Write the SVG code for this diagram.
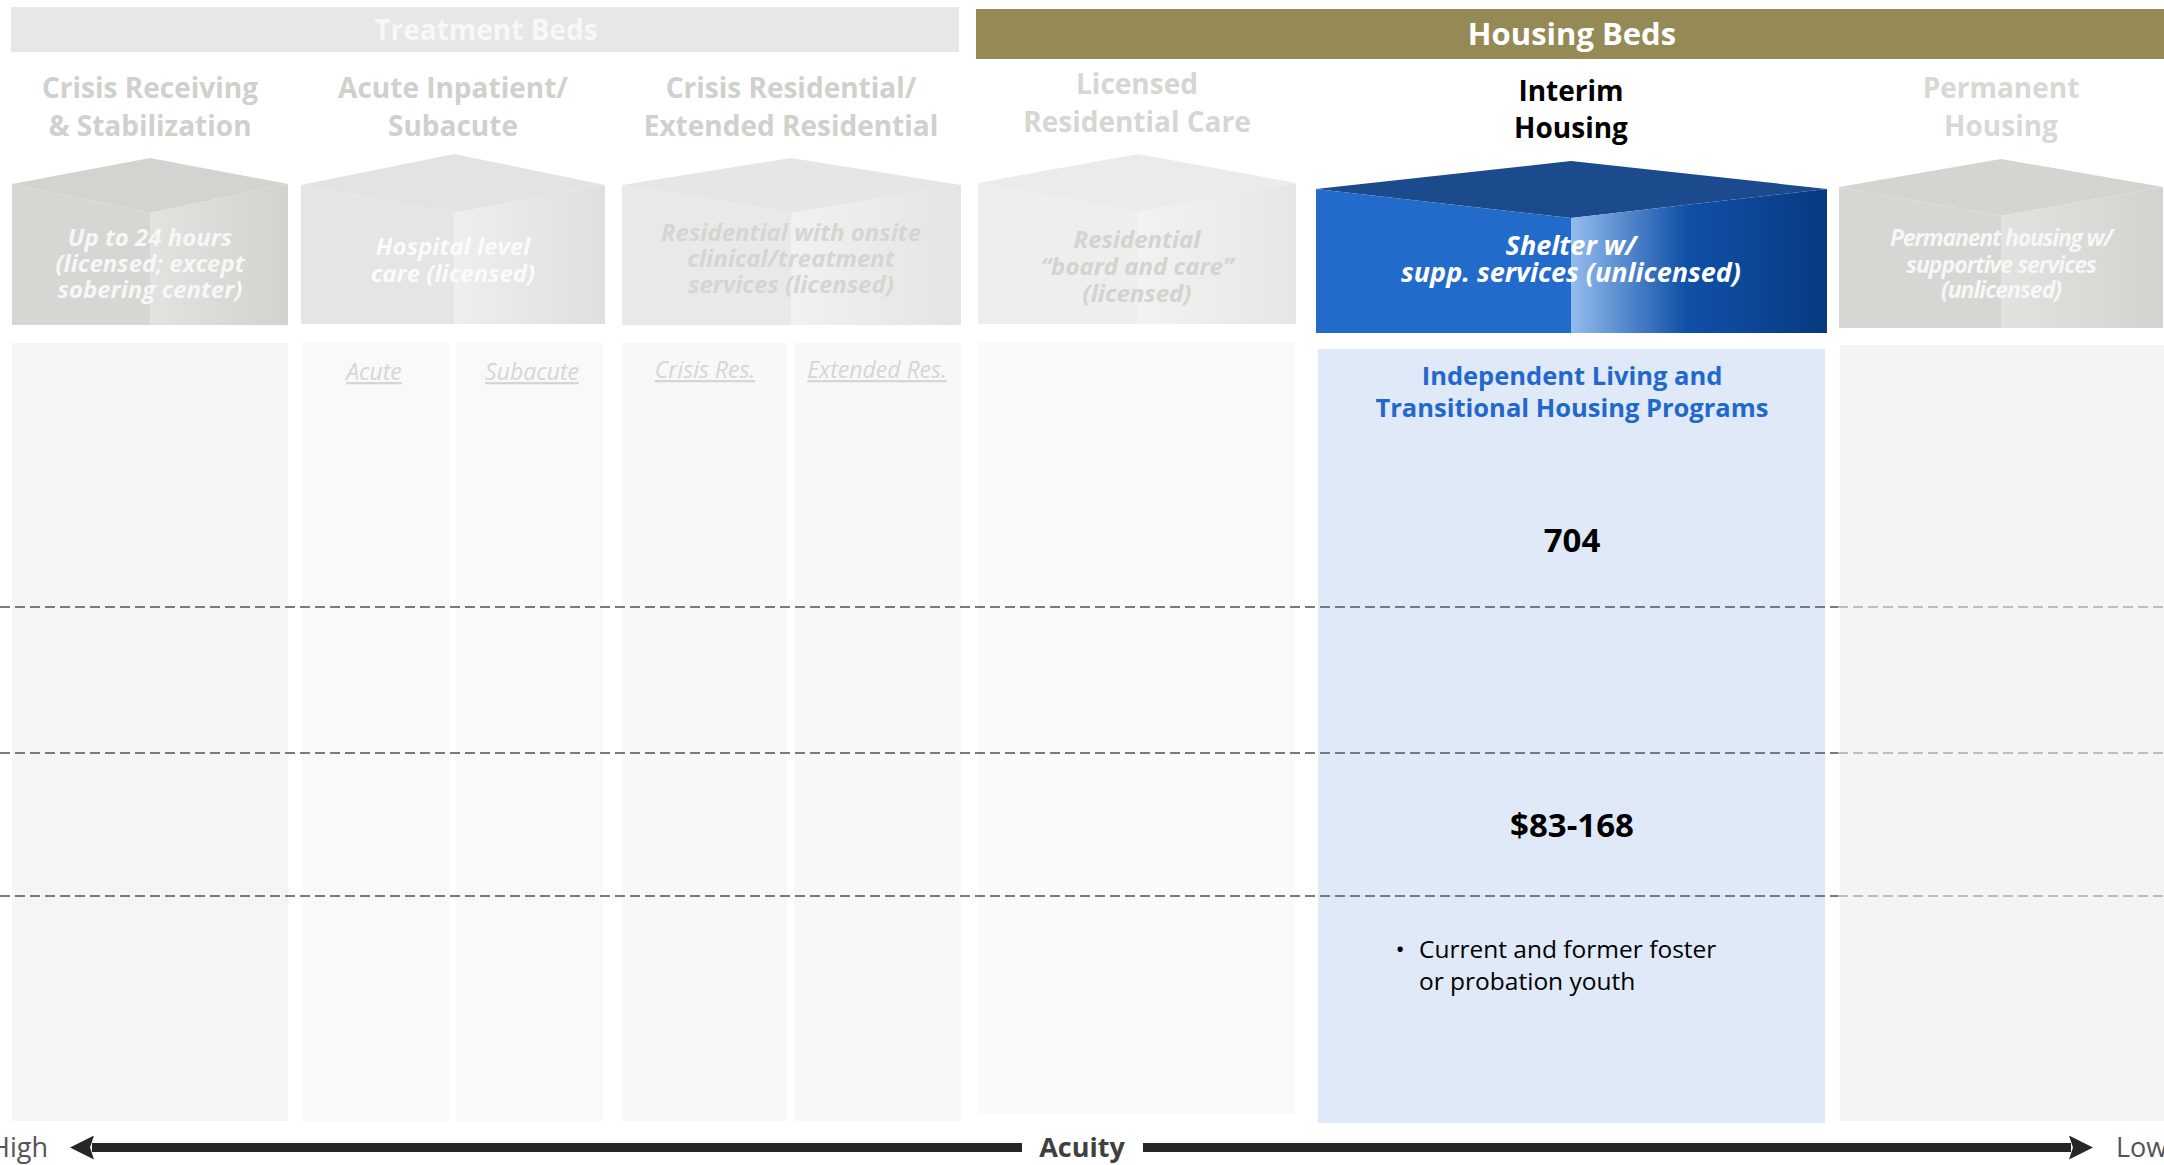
<svg xmlns="http://www.w3.org/2000/svg" width="2164" height="1165" viewBox="0 0 2164 1165">
<defs>
<style>
text{font-family:"Open Sans","Noto Sans","Liberation Sans",sans-serif}
.bar{font-size:28px;font-weight:700;text-anchor:middle}
.hdr{font-size:28px;font-weight:700;text-anchor:middle;fill:#d0d0cc}
.cube{font-size:24px;font-weight:700;font-style:italic;text-anchor:middle}
.sub{font-size:23px;font-style:italic;text-anchor:middle;fill:#d6d6d2;text-decoration:underline}
.dash{stroke:#7a7a7a;stroke-width:2;stroke-dasharray:10 5}
.axis{stroke:#262626;stroke-width:9}
</style>
<linearGradient id="gGray1" x1="0" x2="1" y1="0" y2="0"><stop offset="0" stop-color="#e2e2de"/><stop offset="1" stop-color="#d2d2ce"/></linearGradient>
<linearGradient id="gGray2" x1="0" x2="1" y1="0" y2="0"><stop offset="0" stop-color="#eeeeec"/><stop offset="1" stop-color="#dfdfdd"/></linearGradient>
<linearGradient id="gGray3" x1="0" x2="1" y1="0" y2="0"><stop offset="0" stop-color="#f1f1ef"/><stop offset="1" stop-color="#e4e4e2"/></linearGradient>
<linearGradient id="gGray4" x1="0" x2="1" y1="0" y2="0"><stop offset="0" stop-color="#f2f2f0"/><stop offset="1" stop-color="#e6e6e4"/></linearGradient>
<linearGradient id="gBlue" x1="0" x2="1" y1="0" y2="0"><stop offset="0" stop-color="#94bcee"/><stop offset="0.45" stop-color="#1050a8"/><stop offset="1" stop-color="#083a80"/></linearGradient>
<marker id="head" viewBox="0 0 24 24" refX="2" refY="12" markerWidth="24" markerHeight="24" markerUnits="userSpaceOnUse" orient="auto-start-reverse">
<path d="M0,0 L24,12 L0,24 L4,12 Z" fill="#262626"/>
</marker>
</defs>
<rect width="2164" height="1165" fill="#ffffff"/>

<g id="treatment-beds">
<rect x="11" y="7" width="948" height="45" fill="#e7e7e5"/>
<text class="bar" x="486" y="40" fill="#f8f8f6">Treatment Beds</text>
</g>
<g id="housing-beds">
<rect x="976" y="9" width="1188" height="50" fill="#958a55"/>
<text class="bar" x="1572" y="45" fill="#ffffff" style="font-size:31px">Housing Beds</text>
</g>

<!-- lower cells -->
<g id="cells">
<rect x="12" y="343" width="276" height="778" fill="#f5f5f3"/>
<rect x="302" y="343" width="147" height="778" fill="#f9f9f8"/>
<rect x="456" y="343" width="147" height="778" fill="#f9f9f8"/>
<rect x="622" y="343" width="165" height="778" fill="#f8f8f7"/>
<rect x="794" y="343" width="167" height="778" fill="#f8f8f7"/>
<rect x="978" y="342" width="317" height="772" fill="#fafaf8"/>
<rect x="1318" y="349" width="507" height="774" fill="#dfe9f8"/>
<rect x="1840" y="345" width="324" height="776" fill="#f4f4f2"/>
</g>

<!-- column 1 -->
<g id="col-crisis-receiving">
<text class="hdr" x="150" y="98">Crisis Receiving</text>
<text class="hdr" x="150" y="136">&amp; Stabilization</text>
<polygon points="12,184 150,158 288,184 150,213" fill="#d3d3cf"/>
<polygon points="12,184 150,213 150,325 12,325" fill="#d6d6d2"/>
<polygon points="150,213 288,184 288,325 150,325" fill="url(#gGray1)"/>
<text class="cube" x="150" y="246" fill="#f7f7f5">Up to 24 hours</text>
<text class="cube" x="150" y="272" fill="#f7f7f5">(licensed; except</text>
<text class="cube" x="150" y="298" fill="#f7f7f5">sobering center)</text>
</g>

<!-- column 2 -->
<g id="col-acute">
<text class="hdr" x="453" y="98">Acute Inpatient/</text>
<text class="hdr" x="453" y="136">Subacute</text>
<polygon points="301,185 454,154 605,185 454,213" fill="#e3e3e1"/>
<polygon points="301,185 454,213 454,324 301,324" fill="#e5e5e3"/>
<polygon points="454,213 605,185 605,324 454,324" fill="url(#gGray2)"/>
<text class="cube" x="453" y="255" fill="#fbfbfa">Hospital level</text>
<text class="cube" x="453" y="282" fill="#fbfbfa">care (licensed)</text>
<text class="sub" x="374" y="380">Acute</text>
<text class="sub" x="532" y="380">Subacute</text>
</g>

<!-- column 3 -->
<g id="col-crisis-residential">
<text class="hdr" x="791" y="98">Crisis Residential/</text>
<text class="hdr" x="791" y="136">Extended Residential</text>
<polygon points="622,185 791,158 961,185 791,213" fill="#e6e6e4"/>
<polygon points="622,185 791,213 791,325 622,325" fill="#e9e9e7"/>
<polygon points="791,213 961,185 961,325 791,325" fill="url(#gGray3)"/>
<text class="cube" x="791" y="241" fill="#d5d5d1">Residential with onsite</text>
<text class="cube" x="791" y="267" fill="#d5d5d1">clinical/treatment</text>
<text class="cube" x="791" y="293" fill="#d5d5d1">services (licensed)</text>
<text class="sub" x="705" y="378">Crisis Res.</text>
<text class="sub" x="877" y="378">Extended Res.</text>
</g>

<!-- column 4 -->
<g id="col-licensed-residential">
<text class="hdr" x="1137" y="94" style="fill:#d6d6d2">Licensed</text>
<text class="hdr" x="1137" y="132" style="fill:#d6d6d2">Residential Care</text>
<polygon points="978,183 1138,154 1296,183 1138,212" fill="#ebebe9"/>
<polygon points="978,183 1138,212 1138,324 978,324" fill="#eeeeec"/>
<polygon points="1138,212 1296,183 1296,324 1138,324" fill="url(#gGray4)"/>
<text class="cube" x="1137" y="248" fill="#d3d3cf">Residential</text>
<text class="cube" x="1137" y="275" fill="#d3d3cf">“board and care”</text>
<text class="cube" x="1137" y="302" fill="#d3d3cf">(licensed)</text>
</g>

<!-- column 5 -->
<g id="col-interim-housing">
<text class="hdr" x="1571" y="101" style="fill:#000000">Interim</text>
<text class="hdr" x="1571" y="138" style="fill:#000000">Housing</text>
<polygon points="1316,189 1571,161 1827,189 1571,218" fill="#1b4b8c"/>
<polygon points="1316,189 1571,218 1571,333 1316,333" fill="#236bcb"/>
<polygon points="1571,218 1827,189 1827,333 1571,333" fill="url(#gBlue)"/>
<text class="cube" x="1571" y="255" fill="#ffffff" style="font-size:27px">Shelter w/</text>
<text class="cube" x="1571" y="282" fill="#ffffff" style="font-size:27px">supp. services (unlicensed)</text>
<text x="1572" y="385" text-anchor="middle" font-size="25.5" font-weight="700" fill="#2268cc">Independent Living and</text>
<text x="1572" y="417" text-anchor="middle" font-size="25.5" font-weight="700" fill="#2268cc">Transitional Housing Programs</text>
<text x="1572" y="552" text-anchor="middle" font-size="33" font-weight="700" fill="#000000">704</text>
<text x="1572" y="837" text-anchor="middle" font-size="33" font-weight="700" fill="#000000">$83-168</text>
<text x="1400" y="958" text-anchor="middle" font-size="24.5" fill="#000000">•</text>
<text x="1419" y="958" font-size="24.5" fill="#000000">Current and former foster</text>
<text x="1419" y="990" font-size="24.5" fill="#000000">or probation youth</text>
</g>

<!-- column 6 -->
<g id="col-permanent-housing">
<text class="hdr" x="2001" y="98" style="fill:#d8d8d4">Permanent</text>
<text class="hdr" x="2001" y="136" style="fill:#d8d8d4">Housing</text>
<polygon points="1839,187 2001,159 2163,187 2001,216" fill="#d4d4d0"/>
<polygon points="1839,187 2001,216 2001,328 1839,328" fill="#d6d6d2"/>
<polygon points="2001,216 2163,187 2163,328 2001,328" fill="url(#gGray1)"/>
<text class="cube" x="2001" y="246" fill="#f7f7f5" style="font-size:23px;letter-spacing:-1.2px">Permanent housing w/</text>
<text class="cube" x="2001" y="273" fill="#f7f7f5" style="font-size:23px;letter-spacing:-1px">supportive services</text>
<text class="cube" x="2001" y="298" fill="#f7f7f5" style="font-size:23px;letter-spacing:-1px">(unlicensed)</text>
</g>

<!-- dashed row separators -->
<g id="separators">
<line class="dash" x1="0" y1="607" x2="1838" y2="607"/>
<line class="dash" x1="0" y1="753" x2="1838" y2="753"/>
<line class="dash" x1="0" y1="896" x2="1838" y2="896"/>
<line class="dash" x1="1838" y1="607" x2="2164" y2="607" style="stroke:#bdbdbd"/>
<line class="dash" x1="1838" y1="753" x2="2164" y2="753" style="stroke:#bdbdbd"/>
<line class="dash" x1="1838" y1="896" x2="2164" y2="896" style="stroke:#bdbdbd"/>
</g>

<!-- acuity axis -->
<g id="connectors">
<line class="axis" x1="1022" y1="1147.5" x2="92" y2="1147.5" marker-end="url(#head)"/>
<line class="axis" x1="1143" y1="1147.5" x2="2071" y2="1147.5" marker-end="url(#head)"/>
</g>
<g id="axis-labels">
<text x="48" y="1157" text-anchor="end" font-size="27" fill="#555555">High</text>
<text x="1082" y="1157" text-anchor="middle" font-size="27" font-weight="700" fill="#404040">Acuity</text>
<text x="2116" y="1157" font-size="27" fill="#555555">Low</text>
</g>
</svg>
